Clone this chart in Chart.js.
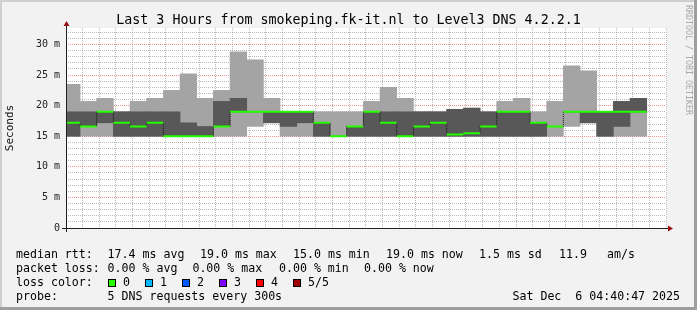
<!DOCTYPE html>
<html><head><meta charset="utf-8">
<script src="https://cdn.jsdelivr.net/npm/chart.js@4/dist/chart.umd.min.js"></script>
<style>html,body{margin:0;padding:0;background:#f2f2f2;}canvas{display:block}</style>
</head><body>
<canvas id="c" width="697" height="310"></canvas>
<script>
// ---- data ----
const rangeStart = '01:40:47';
const rangeEnd = '04:40:47';
const slotMinutes = 5;
const slotStarts = ['01:40','01:45','01:50','01:55','02:00','02:05','02:10','02:15','02:20','02:25','02:30','02:35','02:40','02:45','02:50','02:55','03:00','03:05','03:10','03:15','03:20','03:25','03:30','03:35','03:40','03:45','03:50','03:55','04:00','04:05','04:10','04:15','04:20','04:25','04:30'];
const pingMin    = [15,15,15,15,15,15,15,15,15,15,15,16.6,17.2,15,15,15,15,15,15,15,15,15,15,15,15,15,15,15,15,15,16.6,17.2,15,15,15];
const ping2      = [15,16.6,17.2,15,15,15,15,15,15,16.6,19,19,17.2,16.6,17.2,15,15,15,15,15,15,15,15,15,15,15,15,15,15,16.6,19,17.2,15,16.6,19];
const pingMedian = [17.2,16.6,19,17.2,16.6,17.2,15,15,15,16.6,19,19,19,19,19,17.2,15,16.6,19,17.2,15,16.6,17.2,15.3,15.5,16.6,19,19,17.2,16.6,19,19,19,19,19];
const ping4      = [19,19,19,19,19,19,19,17.2,16.6,20.7,21.2,19,19,19,19,17.2,15,16.6,19,19,19,19,19,19.4,19.6,19,19,19,17.2,16.6,19,19,19,20.7,21.2];
const pingMax    = [23.5,20.7,21.2,19,20.7,21.2,22.5,25.2,21.2,22.5,28.8,27.5,21.2,19,19,19,19,19,20.7,23.0,21.2,19,19,19.4,19.6,19,20.7,21.2,19,20.7,26.5,25.7,19,20.7,21.2];
const yMax = 32.7;
const yTickLabels = ['0','5 m','10 m','15 m','20 m','25 m','30 m'];
const xTickLabels = ['02:00','02:20','02:40','03:00','03:20','03:40','04:00','04:20','04:40'];
const titleText = 'Last 3 Hours from smokeping.fk-it.nl to Level3 DNS 4.2.2.1';
const yAxisTitle = 'Seconds';
const sideText = 'RRDTOOL / TOBI OETIKER';
const rttStats = ['17.4 ms avg','19.0 ms max','15.0 ms min','19.0 ms now','1.5 ms sd','11.9','am/s'];
const lossStats = ['0.00 % avg','0.00 % max','0.00 % min','0.00 % now'];
const lossLabels = ['0','1','2','3','4','5/5'];
const lossColors = ['#26ff00','#00b8ff','#0059ff','#7e00ff','#ff0000','#a10000'];
const probeText = '5 DNS requests every 300s';
const dateText = 'Sat Dec  6 04:40:47 2025';

// ---- helpers ----
function toMin(s){const p=s.split(':').map(Number);return p[0]*60+p[1]+(p[2]||0)/60;}
function fmt(v){const h=Math.floor(v/60),m=Math.round(v%60);return String(h).padStart(2,'0')+':'+String(m).padStart(2,'0');}
const starts = slotStarts.map(toMin);
const centers = starts.map(s=>s+slotMinutes/2);
const lightBars = centers.map((c,i)=>({x:c,y:[pingMin[i],pingMax[i]]}));
const darkBars = centers.map((c,i)=>({x:c,y:[ping2[i],ping4[i]]}));
const medSteps = starts.map((s,i)=>({x:s,y:pingMedian[i]}));
medSteps.push({x:starts[starts.length-1]+slotMinutes,y:pingMedian[pingMedian.length-1]});
const medSegs = [];
starts.forEach((s,i)=>{medSegs.push({x:s,y:pingMedian[i]},{x:s+slotMinutes,y:pingMedian[i]},{x:s+slotMinutes,y:null});});

const MONO = "'DejaVu Sans Mono', monospace";
Chart.defaults.font.family = MONO;
const MAJOR = 'rgba(225,60,60,0.55)';
const MINOR = 'rgba(130,130,130,0.55)';

const deco = {
  id:'deco',
  beforeDraw(chart){
    const {ctx, chartArea:a, width:w, height:h} = chart;
    ctx.save();
    ctx.fillStyle='#f2f2f2'; ctx.fillRect(0,0,w,h);
    ctx.fillStyle='#cfcfcf'; ctx.fillRect(0,0,w,2); ctx.fillRect(0,0,2,h);
    ctx.fillStyle='#9e9e9e'; ctx.fillRect(w-3,0,3,h); ctx.fillRect(0,h-3,w,3);
    ctx.fillStyle='#ffffff'; ctx.fillRect(a.left,a.top,a.right-a.left+1,a.bottom-a.top);
    ctx.restore();
  },
  afterDraw(chart){
    const {ctx, chartArea:a, width:w} = chart;
    ctx.save();
    // axes
    ctx.strokeStyle='#202020'; ctx.lineWidth=1;
    ctx.beginPath();
    ctx.moveTo(a.left-4, a.bottom+0.5); ctx.lineTo(a.right+5, a.bottom+0.5);
    ctx.moveTo(a.left+0.5, a.bottom+4); ctx.lineTo(a.left+0.5, a.top-5);
    ctx.stroke();
    // arrows
    ctx.fillStyle='#9b1010';
    ctx.beginPath();
    ctx.moveTo(a.left-2.5, a.top-2); ctx.lineTo(a.left+3.5, a.top-2); ctx.lineTo(a.left+0.5, a.top-7); ctx.closePath(); ctx.fill();
    ctx.beginPath();
    ctx.moveTo(a.right+2, a.bottom-2.5); ctx.lineTo(a.right+2, a.bottom+3.5); ctx.lineTo(a.right+7, a.bottom+0.5); ctx.closePath(); ctx.fill();
    // title
    ctx.fillStyle='#000'; ctx.textBaseline='alphabetic'; ctx.textAlign='center';
    ctx.font='13.3px '+MONO;
    ctx.fillText(titleText, w/2, 24);
    // y title
    ctx.save(); ctx.translate(10,(a.top+a.bottom)/2); ctx.rotate(-Math.PI/2);
    ctx.font='11px '+MONO; ctx.textBaseline='middle'; ctx.fillStyle='#111';
    ctx.fillText(yAxisTitle,0,0); ctx.restore();
    // side text
    ctx.save(); ctx.translate(688,5); ctx.rotate(Math.PI/2);
    ctx.font='8.3px '+MONO; ctx.textBaseline='middle'; ctx.textAlign='left'; ctx.fillStyle='#a8a8a8';
    ctx.fillText(sideText,0,0); ctx.restore();
    // legend
    ctx.font='11.6px '+MONO; ctx.textAlign='left'; ctx.textBaseline='alphabetic'; ctx.fillStyle='#000';
    const r1=258, r2=272, r3=286, r4=299.5;
    ctx.fillText('median rtt:',16,r1);
    const rx=[107.6,200,293,386,479,559,607];
    rttStats.forEach((t,i)=>ctx.fillText(t,rx[i],r1));
    ctx.fillText('packet loss:',16,r2);
    const lx=[107.6,192.4,279,364];
    lossStats.forEach((t,i)=>ctx.fillText(t,lx[i],r2));
    ctx.fillText('loss color:',16,r3);
    lossLabels.forEach((t,i)=>{
      const bx=108+i*37;
      ctx.fillStyle=lossColors[i]; ctx.fillRect(bx,279,8,8);
      ctx.strokeStyle='#000'; ctx.lineWidth=1; ctx.strokeRect(bx+0.5,279.5,7,7);
      ctx.fillStyle='#000'; ctx.fillText(t,bx+15,r3);
    });
    ctx.fillText('probe:',16,r4);
    ctx.fillText(probeText,107.6,r4);
    ctx.textAlign='right'; ctx.fillText(dateText,680,r4);
    ctx.restore();
  }
};

new Chart(document.getElementById('c'), {
  type:'bar',
  data:{datasets:[
    {type:'line', data:medSegs, borderColor:'#26ff00', borderWidth:2, pointRadius:0, spanGaps:false, borderCapStyle:'butt', order:0, clip:0},
    {type:'line', data:medSteps, stepped:'before', borderColor:'#111', borderWidth:1, borderDash:[1,1], pointRadius:0, order:1, clip:0},
    {type:'bar', data:darkBars, backgroundColor:'#585858', borderWidth:0, grouped:false, barPercentage:1, categoryPercentage:1, order:2, clip:0},
    {type:'bar', data:lightBars, backgroundColor:'#a4a4a4', borderWidth:0, grouped:false, barPercentage:1, categoryPercentage:1, order:3, clip:0}
  ]},
  options:{
    responsive:false, animation:false, devicePixelRatio:1,
    layout:{padding:{left:0,top:28,right:31,bottom:0}},
    plugins:{legend:{display:false}, tooltip:{enabled:false}, title:{display:false}},
    scales:{
      x:{type:'linear', min:toMin(rangeStart), max:toMin(rangeEnd), offset:false,
         afterFit(s){s.height=82;},
         grid:{offset:false, drawTicks:false, color:c=>c.tick && c.tick.value%20===0?MAJOR:MINOR},
         border:{display:false, dash:[1,1]},
         ticks:{stepSize:5, includeBounds:false, autoSkip:false, maxRotation:0, padding:6, color:'#222', font:{size:10, family:MONO},
           callback:v=>{const s=fmt(v);return (v%20===0 && xTickLabels.includes(s))?s:'';}}},
      y:{type:'linear', min:0, max:yMax,
         afterFit(s){s.width=66;},
         grid:{drawTicks:false, color:c=>c.tick && c.tick.value%5===0?MAJOR:MINOR},
         border:{display:false, dash:[1,1]},
         ticks:{stepSize:1, includeBounds:false, autoSkip:false, padding:6, color:'#222', font:{size:10, family:MONO},
           callback:v=>v%5===0?yTickLabels[v/5]:''}}
    }
  },
  plugins:[deco]
});
</script>
</body></html>
